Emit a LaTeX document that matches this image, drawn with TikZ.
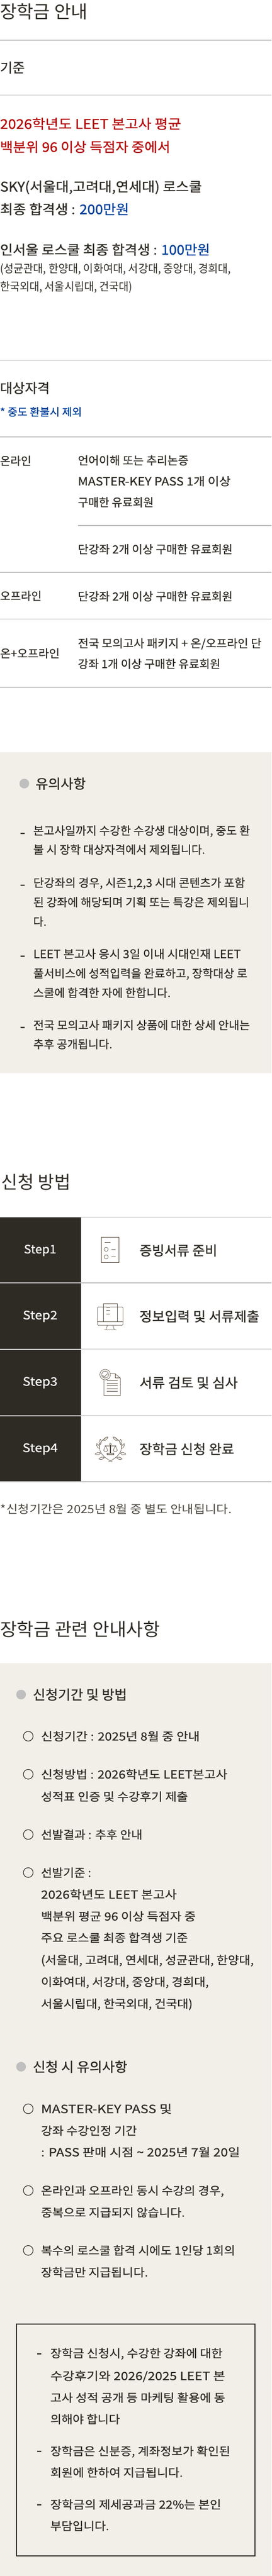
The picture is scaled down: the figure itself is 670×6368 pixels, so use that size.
\documentclass[tikz,border=0pt]{standalone}
\usepackage{fontspec}
\usepackage{graphicx}
\usepackage{tikz}
\setmainfont{Noto Sans CJK KR}
\newfontfamily\medfont[FakeBold=0.5]{Noto Sans CJK KR}
\newfontfamily\headfont[FakeBold=0.8]{Noto Sans CJK KR}

\definecolor{ink}{HTML}{2E2B25}
\definecolor{softink}{HTML}{4A473F}
\definecolor{rulegray}{HTML}{BFBFBF}
\definecolor{beige}{HTML}{F2EFE9}
\definecolor{redtxt}{HTML}{B30D0D}
\definecolor{bluetxt}{HTML}{003F98}
\definecolor{iconline}{HTML}{5A4D3E}

\tikzset{
  txt/.style={anchor=base west, inner sep=0pt, text=ink, yshift=-.38*#1 pt,
    font=\fontsize{#1}{#1}\medfont},
  headtxt/.style={txt=33, font=\fontsize{33}{33}\headfont},
  title/.style={anchor=base west, inner sep=0pt, text=ink, yshift=-16.7pt,
    font=\fontsize{44}{44}\selectfont},
  rule/.style={draw=rulegray, line width=2pt},
  stepbox/.style={fill=ink, minimum width=200pt, minimum height=162pt, inner sep=0pt},
  dot/.style={circle, fill=rulegray, minimum size=24pt, inner sep=0pt},
  ring/.style={circle, draw=ink, line width=1.5pt, minimum size=24pt, inner sep=0pt},
  icon/.style={draw=iconline, line width=.9pt},
}
% sets a line to the width it has in the layout
\newcommand{\fitto}[2]{\resizebox{#1pt}{\height}{#2}}
\newcommand{\leafat}[3]{\draw[icon, shift={(#1,#2)}, rotate=#3]
  (0,0) .. controls (4,-4) and (10,-3) .. (14,0) .. controls (10,3) and (4,4) .. (0,0);}

\begin{document}
\begin{tikzpicture}[x=1pt, y=-1pt]
  \useasboundingbox (0,0) rectangle (670,6368);
  \fill[beige] (0,1860) rectangle (670,2653);
  \fill[beige] (0,4111) rectangle (670,6368);

  % first section
  \node[title] (maintitle) at (0,29) {\fitto{216}{장학금 안내}};
  \coordinate (ruleAl) at (0,99);    \coordinate (ruleAr) at (670,99);
  \coordinate (ruleBl) at (0,235);   \coordinate (ruleBr) at (670,235);
  \draw[rule] (ruleAl) -- (ruleAr);
  \node[txt=33] (basehead) at (0,167) {\fitto{61}{기준}};
  \draw[rule] (ruleBl) -- (ruleBr);

  \node[headtxt, text=redtxt] (redA) at (0,306) {\fitto{447}{2026학년도 LEET 본고사 평균}};
  \node[headtxt, text=redtxt] (redB) at (0,363) {\fitto{420}{백분위 96 이상 득점자 중에서}};
  \node[headtxt] (skyA) at (0,461) {\fitto{498}{SKY(서울대,고려대,연세대) 로스쿨}};
  \node[headtxt] (skyB) at (0,517) {\fitto{318}{최종 합격생 : \textcolor{bluetxt}{200만원}}};
  \node[headtxt] (inA) at (0,617) {\fitto{518}{인서울 로스쿨 최종 합격생 : \textcolor{bluetxt}{100만원}}};
  \node[txt=28] (inB) at (0,664) {\fitto{570}{\normalfont (성균관대, 한양대, 이화여대, 서강대, 중앙대, 경희대,}};
  \node[txt=28] (inC) at (0,708) {\fitto{327}{\normalfont 한국외대, 서울시립대, 건국대)}};

  % who can apply
  \coordinate (ruleCl) at (0,891);   \coordinate (ruleCr) at (670,891);
  \draw[rule] (ruleCl) -- (ruleCr);
  \node[headtxt] (whohead) at (0,959) {\fitto{122.6}{대상자격}};
  \node[txt=26, text=bluetxt] (whonote) at (0,1018) {\fitto{202}{* 중도 환불시 제외}};
  \coordinate (ruleDl) at (0,1080);  \coordinate (ruleDr) at (670,1080);
  \draw[rule] (ruleDl) -- (ruleDr);
  \node[txt=28] (online) at (0,1139) {\fitto{77}{온라인}};
  \node[txt=28] (onA) at (192,1138) {\fitto{273}{언어이해 또는 추리논증}};
  \node[txt=28] (onB) at (192,1189.5) {\fitto{377}{MASTER-KEY PASS 1개 이상}};
  \node[txt=28] (onC) at (192,1241.5) {\fitto{187}{구매한 유료회원}};
  \coordinate (ruleEl) at (192,1299); \coordinate (ruleEr) at (670,1299);
  \draw[rule] (ruleEl) -- (ruleEr);
  \node[txt=28] (onD) at (192,1357.5) {\fitto{382}{단강좌 2개 이상 구매한 유료회원}};
  \coordinate (ruleFl) at (0,1415);  \coordinate (ruleFr) at (670,1415);
  \draw[rule] (ruleFl) -- (ruleFr);
  \node[txt=28] (offline) at (0,1473) {\fitto{102.5}{오프라인}};
  \node[txt=28] (offA) at (192,1474) {\fitto{382}{단강좌 2개 이상 구매한 유료회원}};
  \coordinate (ruleGl) at (0,1530);  \coordinate (ruleGr) at (670,1530);
  \draw[rule] (ruleGl) -- (ruleGr);
  \node[txt=28] (both) at (0,1615) {\fitto{147}{온+오프라인}};
  \node[txt=28] (bothA) at (192,1590) {\fitto{453}{전국 모의고사 패키지 + 온/오프라인 단}};
  \node[txt=28] (bothB) at (192,1641) {\fitto{351.5}{강좌 1개 이상 구매한 유료회원}};
  \coordinate (ruleHl) at (0,1699);  \coordinate (ruleHr) at (670,1699);
  \draw[rule] (ruleHl) -- (ruleHr);

  % notes on beige
  \node[dot] (noteDot) at (60,1937) {};
  \node[headtxt] (notehead) at (87.6,1937) {\fitto{124}{유의사항}};
  \foreach \i/\y in {a/2056.5,b/2184.6,c/2360,d/2536}
    \node[txt=38] (dash\i) at (49,\y) {-};
  \foreach \i/\y/\w/\t in {a/2053/534.6/{본고사일까지 수강한 수강생 대상이며, 중도 환},
      b/2100/424/{불 시 장학 대상자격에서 제외됩니다.},
      c/2182/522.6/{단강좌의 경우, 시즌1,2,3 시대 콘텐츠가 포함},
      d/2230/533/{된 강좌에 해당되며 기획 또는 특강은 제외됩니},
      e/2278/32.5/{다.},
      f/2358/512/{LEET 본고사 응시 3일 이내 시대인재 LEET},
      g/2406/528/{풀서비스에 성적입력을 완료하고, 장학대상 로},
      h/2454/339/{스쿨에 합격한 자에 한합니다.},
      i/2534/534.6/{전국 모의고사 패키지 상품에 대한 상세 안내는},
      j/2581/195/{추후 공개됩니다.}}
    \node[txt=28] (note\i) at (82,\y) {\fitto{\w}{\t}};

  % how to apply
  \node[title] (applytitle) at (3,2922) {\fitto{171}{신청 방법}};
  \foreach \i/\y/\wa/\wb/\t in {1/3091/80/192/{증빙서류 준비},2/3254/85.5/295.7/{정보입력 및 서류제출},
      3/3418/86/242.7/{서류 검토 및 심사},4/3582/87/233.7/{장학금 신청 완료}} {
    \node[stepbox] (step\i) at (100,\y) {};
    \node[text=white, font=\fontsize{29}{29}\medfont, inner sep=0pt] (steplabel\i) at (99,\y) {\fitto{\wa}{Step\i}};
    \node[headtxt] (steptxt\i) at (344,\y) {\fitto{\wb}{\t}};
  }
  \foreach \i/\y in {a/3009,b/3171,c/3335,d/3499,e/3663} {
    \coordinate (rowl\i) at (0,\y);
    \coordinate (rowr\i) at (670,\y);
    \draw[rule] (rowl\i) -- (rowr\i);
  }

  % icon of step 1
  \draw[icon] (249.5,3058) rectangle (294,3121);
  \draw[icon] (259,3071) -- (272.6,3071);
  \foreach \y in {3088.4,3107} {
    \draw[icon] (262,\y) circle (5);
    \draw[icon] (275.6,\y) -- (285.4,\y);
  }
  % icon of step 2
  \draw[icon, rounded corners=2pt] (240.5,3231) rectangle (303.4,3276);
  \draw[icon] (240.5,3267) -- (303.4,3267);
  \draw[icon] (254.7,3267) -- (254.7,3222) -- (289.3,3222) -- (289.3,3267);
  \foreach \y in {3231.7,3239.8,3247.6}
    \draw[icon] (262.8,\y) -- (271.3,\y);
  \draw[icon] (265,3276) -- (261.5,3287) (278.6,3276) -- (282,3287) (257,3287) -- (287,3287);
  % icon of step 3
  \draw[icon] (273,3396) -- (284,3396) -- (297,3406.5) -- (297,3449.4) -- (256.4,3449.4) -- (256.4,3411);
  \draw[icon] (284,3396) -- (284,3406.5) -- (297,3406.5);
  \foreach \y in {3413,3420,3425.7,3433,3439}
    \draw[icon] (264,\y) -- (290.6,\y);
  \draw[icon] (259.4,3398) circle (13);
  \draw[icon] (259.4,3398) circle (8.5);
  \draw[icon] (253,3399.7) -- (257.2,3403.8) -- (265.8,3395.3);
  % icon of step 4
  \begin{scope}[shift={(272.6,3582)}]
    \foreach \s in {1,-1} {
      \begin{scope}[xscale=\s]
        \draw[icon] (5,32) .. controls (-20,20) and (-29,5) .. (-27,-8) .. controls (-26,-17) and (-20,-23) .. (-12,-27);
        \leafat{-17}{-21}{40}
        \leafat{-26}{-10}{85}
        \leafat{-27}{-1}{120}
        \leafat{-24}{10}{190}
        \leafat{-15}{21}{195}
        \draw[icon] (-14,-8) -- (14,-8);
        \draw[icon] (-12,-8) -- (-17,3) .. controls (-15,8) and (-9,8) .. (-7,3) -- cycle;
      \end{scope}
    }
    \draw[icon, fill=white] (-1,-12) rectangle (1,10);
    \draw[icon, fill=white] (0,-12) circle (2.5);
    \draw[icon, fill=rulegray] (-8.5,10) rectangle (8.5,14);
  \end{scope}

  \node[txt=28, text=softink] (applynote) at (1,3730) {\fitto{570.7}{\normalfont *신청기간은 2025년 8월 중 별도 안내됩니다.}};

  % scholarship details
  \node[title] (detailtitle) at (0,4027) {\fitto{395}{장학금 관련 안내사항}};
  \node[dot] (periodDot) at (52,4189) {};
  \node[headtxt] (periodhead) at (81,4189) {\fitto{232}{신청기간 및 방법}};
  \foreach \i/\y in {a/4292,b/4386,c/4535,d/4629,e/5213,f/5415,g/5563}
    \node[ring] (ring\i) at (69.7,\y) {};
  \foreach \i/\y/\w/\t in {a/4292/391.7/{신청기간 : 2025년 8월 중 안내},
      b/4386/460/{신청방법 : 2026학년도 LEET본고사},
      c/4441/362.6/{성적표 인증 및 수강후기 제출},
      d/4535/250/{선발결과 : 추후 안내},
      e/4629/124/{선발기준 :},
      f/4683/335/{2026학년도 LEET 본고사},
      g/4737/382/{백분위 평균 96 이상 득점자 중},
      h/4790/362.6/{주요 로스쿨 최종 합격생 기준},
      i/4845/525/{(서울대, 고려대, 연세대, 성균관대, 한양대,},
      j/4899/414/{이화여대, 서강대, 중앙대, 경희대,},
      k/4953/374/{서울시립대, 한국외대, 건국대)},
      l/5213/323/{MASTER-KEY PASS 및},
      m/5267/236.6/{강좌 수강인정 기간},
      n/5320/491/{: PASS 판매 시점 \textasciitilde{} 2025년 7월 20일},
      o/5415/451.5/{온라인과 오프라인 동시 수강의 경우,},
      p/5469/355/{중복으로 지급되지 않습니다.},
      q/5563/479/{복수의 로스쿨 합격 시에도 1인당 1회의},
      r/5617/264/{장학금만 지급됩니다.}}
    \node[txt=28] (item\i) at (101,\y) {\fitto{\w}{\t}};
  \node[dot] (cautionDot) at (52,5109) {};
  \node[headtxt] (cautionhead) at (81,5109) {\fitto{233}{신청 시 유의사항}};

  % boxed notes
  \draw[draw=ink, line width=2pt] (40.6,5745) rectangle (629.4,6318.6);
  \foreach \i/\y in {a/5815,b/6056,c/6188}
    \node[txt=38] (boxdash\i) at (90,\y) {-};
  \foreach \i/\y/\w/\t in {a/5817/425/{장학금 신청시, 수강한 강좌에 대한},
      b/5873/431.5/{수강후기와 2026/2025 LEET 본},
      c/5927/431.5/{고사 성적 공개 등 마케팅 활용에 동},
      d/5980/171.7/{의해야 합니다},
      e/6059/444/{장학금은 신분증, 계좌정보가 확인된},
      f/6112/327/{회원에 한하여 지급됩니다.},
      g/6191/421.6/{장학금의 제세공과금 22\%는 본인},
      h/6244/145/{부담입니다.}}
    \node[txt=28] (boxline\i) at (124,\y) {\fitto{\w}{\t}};
\end{tikzpicture}
\end{document}
